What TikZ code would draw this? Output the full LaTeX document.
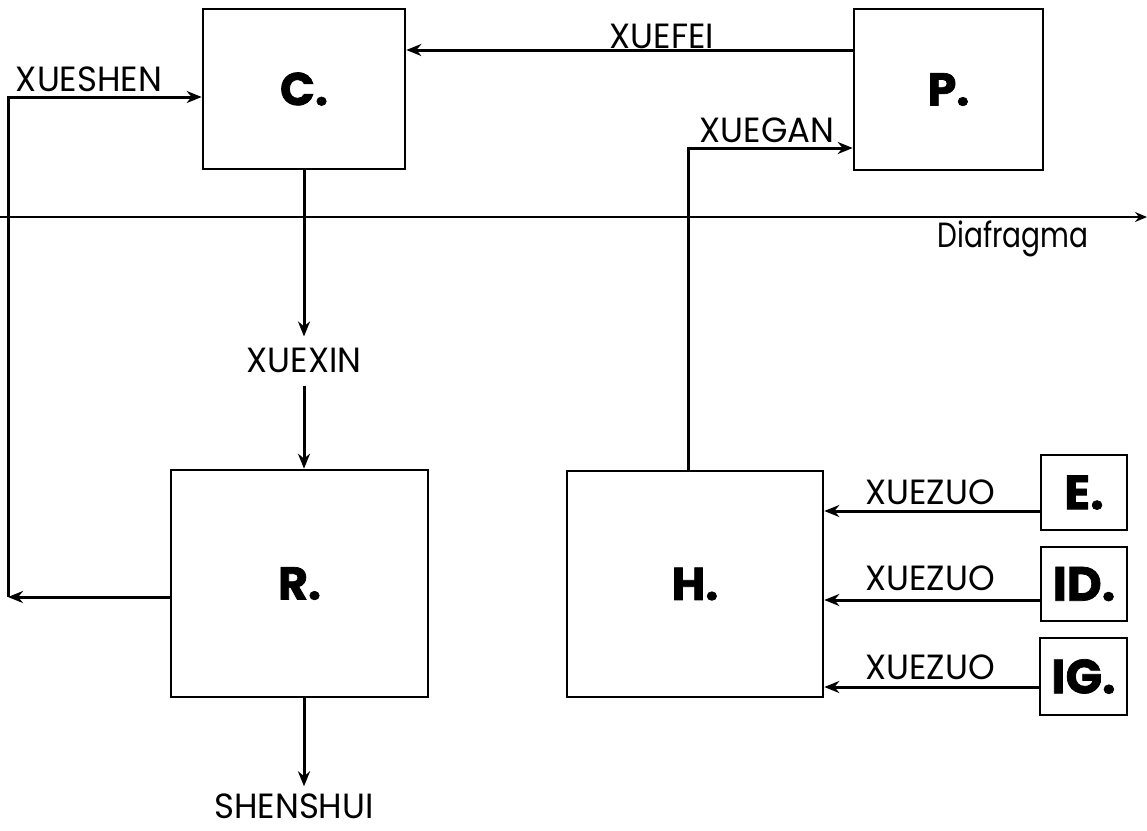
\documentclass[tikz,border=0pt]{standalone}
\usepackage{fontspec}
\setmainfont{Poppins}
\newfontfamily\labfont[FakeStretch=0.97]{Poppins}
\newfontfamily\diafont[FakeStretch=0.8]{Poppins}
\newfontfamily\heavyfont[BoldFeatures={FakeBold=1.5}]{Poppins}
\usetikzlibrary{arrows.meta}
\tikzset{
  box/.style={draw, line width=2.6pt, inner sep=0pt, font=\heavyfont\bfseries\fontsize{46}{46}\selectfont},
  smallbox/.style={box, font=\heavyfont\bfseries\fontsize{48}{48}\selectfont},
  lbl/.style={inner sep=0pt, font=\labfont\fontsize{35}{35}\selectfont},
  arr/.style={line width=3pt, -{Stealth[length=15pt,width=12pt]}},
  thinarr/.style={line width=2pt, -{Stealth[length=12pt,width=10pt]}}
}
\begin{document}
\begin{tikzpicture}[x=1pt,y=-1pt]
\useasboundingbox (0,0) rectangle (1147,830);
% boxes
\node[box, minimum width=202pt, minimum height=160pt] (C) at (304,89) {C.};
\node[box, minimum width=189pt, minimum height=161pt] (P) at (948.5,89.5) {P.};
\node[box, minimum width=257pt, minimum height=227pt] (R) at (299.5,583.5) {R.};
\node[box, minimum width=256pt, minimum height=226pt] (H) at (695,584) {H.};
\node[smallbox, minimum width=86pt, minimum height=75pt] (E) at (1084,492.5) {E.};
\node[smallbox, minimum width=86pt, minimum height=74pt] (ID) at (1084,584) {ID.};
\node[smallbox, minimum width=87pt, minimum height=77pt] (IG) at (1083.5,676.5) {IG.};
% labels
\node[lbl] (xueshen) at (89,79) {XUESHEN};
\node[lbl] (xuefei) at (662,36) {XUEFEI};
\node[lbl] (xuegan) at (767,130) {XUEGAN};
\node[lbl] (xuexin) at (304,360) {XUEXIN};
\node[lbl] (shenshui) at (294,806) {SHENSHUI};
\node[lbl, font=\diafont\fontsize{35}{35}\selectfont, anchor=base] (diaf) at (1013,247) {Diafragma};
\node[lbl] (z1) at (930,492) {XUEZUO};
\node[lbl] (z2) at (930,578) {XUEZUO};
\node[lbl] (z3) at (930,667) {XUEZUO};
% coordinates
\coordinate (yfei) at (0,50);
\coordinate (lt) at (8,97);
\coordinate (lb) at (8,597);
\coordinate (hx) at (688,148);
\coordinate (d1) at (0,217);
\coordinate (d2) at (1147,217);
\coordinate (y1) at (0,511);
\coordinate (y2) at (0,600);
\coordinate (y3) at (0,687);
% diaphragm
\draw[thinarr] (d1) -- (d2);
% connectors
\draw[arr] (P.west |- yfei) -- (C.east |- yfei);
\draw[arr] (R.west |- lb) -- (lb);
\draw[arr] (lb) -- (lt) -- (C.west |- lt);
\draw[arr, shorten >=11pt] (C.south) -- (xuexin.north);
\draw[arr, shorten <=13pt] (xuexin.south) -- (xuexin |- R.north);
\draw[arr, shorten >=7pt] (xuexin |- R.south) -- (xuexin |- shenshui.north);
\draw[arr] (hx |- H.north) -- (hx) -- (hx -| P.west);
\draw[arr] (E.west |- y1) -- (H.east |- y1);
\draw[arr] (ID.west |- y2) -- (H.east |- y2);
\draw[arr] (IG.west |- y3) -- (H.east |- y3);
\end{tikzpicture}
\end{document}
